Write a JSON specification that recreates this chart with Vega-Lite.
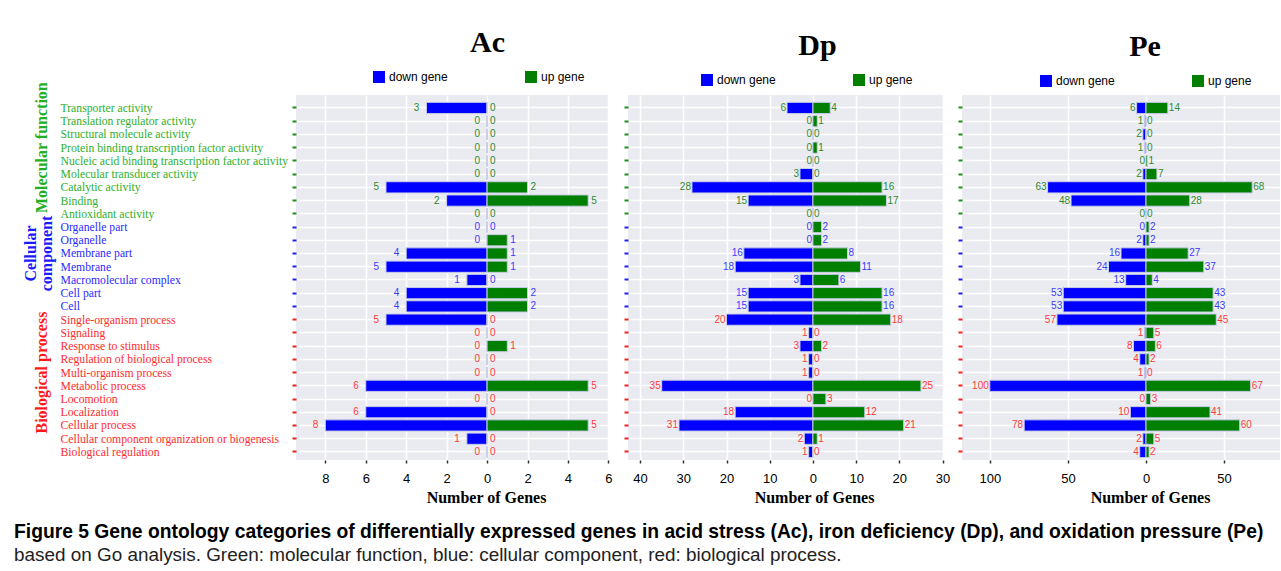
{
  "$schema": "https://vega.github.io/schema/vega-lite/v6.json",
  "padding": {"left": 14, "top": 28, "right": 0, "bottom": 4},
  "background": "white",
  "config": {"view": {"stroke": null}, "font": "Liberation Sans"},
  "datasets": {
    "go": [
      {"cat": "Transporter activity", "grp": "mf", "cond": "Ac", "down": 3, "up": 0},
      {"cat": "Translation regulator activity", "grp": "mf", "cond": "Ac", "down": 0, "up": 0},
      {"cat": "Structural molecule activity", "grp": "mf", "cond": "Ac", "down": 0, "up": 0},
      {"cat": "Protein binding transcription factor activity", "grp": "mf", "cond": "Ac", "down": 0, "up": 0},
      {"cat": "Nucleic acid binding transcription factor activity", "grp": "mf", "cond": "Ac", "down": 0, "up": 0},
      {"cat": "Molecular transducer activity", "grp": "mf", "cond": "Ac", "down": 0, "up": 0},
      {"cat": "Catalytic activity", "grp": "mf", "cond": "Ac", "down": 5, "up": 2},
      {"cat": "Binding", "grp": "mf", "cond": "Ac", "down": 2, "up": 5},
      {"cat": "Antioxidant activity", "grp": "mf", "cond": "Ac", "down": 0, "up": 0},
      {"cat": "Organelle part", "grp": "cc", "cond": "Ac", "down": 0, "up": 0},
      {"cat": "Organelle", "grp": "cc", "cond": "Ac", "down": 0, "up": 1},
      {"cat": "Membrane part", "grp": "cc", "cond": "Ac", "down": 4, "up": 1},
      {"cat": "Membrane", "grp": "cc", "cond": "Ac", "down": 5, "up": 1},
      {"cat": "Macromolecular complex", "grp": "cc", "cond": "Ac", "down": 1, "up": 0},
      {"cat": "Cell part", "grp": "cc", "cond": "Ac", "down": 4, "up": 2},
      {"cat": "Cell", "grp": "cc", "cond": "Ac", "down": 4, "up": 2},
      {"cat": "Single-organism process", "grp": "bp", "cond": "Ac", "down": 5, "up": 0},
      {"cat": "Signaling", "grp": "bp", "cond": "Ac", "down": 0, "up": 0},
      {"cat": "Response to stimulus", "grp": "bp", "cond": "Ac", "down": 0, "up": 1},
      {"cat": "Regulation of biological process", "grp": "bp", "cond": "Ac", "down": 0, "up": 0},
      {"cat": "Multi-organism process", "grp": "bp", "cond": "Ac", "down": 0, "up": 0},
      {"cat": "Metabolic process", "grp": "bp", "cond": "Ac", "down": 6, "up": 5},
      {"cat": "Locomotion", "grp": "bp", "cond": "Ac", "down": 0, "up": 0},
      {"cat": "Localization", "grp": "bp", "cond": "Ac", "down": 6, "up": 0},
      {"cat": "Cellular process", "grp": "bp", "cond": "Ac", "down": 8, "up": 5},
      {"cat": "Cellular component organization or biogenesis", "grp": "bp", "cond": "Ac", "down": 1, "up": 0},
      {"cat": "Biological regulation", "grp": "bp", "cond": "Ac", "down": 0, "up": 0},

      {"cat": "Transporter activity", "grp": "mf", "cond": "Dp", "down": 6, "up": 4},
      {"cat": "Translation regulator activity", "grp": "mf", "cond": "Dp", "down": 0, "up": 1},
      {"cat": "Structural molecule activity", "grp": "mf", "cond": "Dp", "down": 0, "up": 0},
      {"cat": "Protein binding transcription factor activity", "grp": "mf", "cond": "Dp", "down": 0, "up": 1},
      {"cat": "Nucleic acid binding transcription factor activity", "grp": "mf", "cond": "Dp", "down": 0, "up": 0},
      {"cat": "Molecular transducer activity", "grp": "mf", "cond": "Dp", "down": 3, "up": 0},
      {"cat": "Catalytic activity", "grp": "mf", "cond": "Dp", "down": 28, "up": 16},
      {"cat": "Binding", "grp": "mf", "cond": "Dp", "down": 15, "up": 17},
      {"cat": "Antioxidant activity", "grp": "mf", "cond": "Dp", "down": 0, "up": 0},
      {"cat": "Organelle part", "grp": "cc", "cond": "Dp", "down": 0, "up": 2},
      {"cat": "Organelle", "grp": "cc", "cond": "Dp", "down": 0, "up": 2},
      {"cat": "Membrane part", "grp": "cc", "cond": "Dp", "down": 16, "up": 8},
      {"cat": "Membrane", "grp": "cc", "cond": "Dp", "down": 18, "up": 11},
      {"cat": "Macromolecular complex", "grp": "cc", "cond": "Dp", "down": 3, "up": 6},
      {"cat": "Cell part", "grp": "cc", "cond": "Dp", "down": 15, "up": 16},
      {"cat": "Cell", "grp": "cc", "cond": "Dp", "down": 15, "up": 16},
      {"cat": "Single-organism process", "grp": "bp", "cond": "Dp", "down": 20, "up": 18},
      {"cat": "Signaling", "grp": "bp", "cond": "Dp", "down": 1, "up": 0},
      {"cat": "Response to stimulus", "grp": "bp", "cond": "Dp", "down": 3, "up": 2},
      {"cat": "Regulation of biological process", "grp": "bp", "cond": "Dp", "down": 1, "up": 0},
      {"cat": "Multi-organism process", "grp": "bp", "cond": "Dp", "down": 1, "up": 0},
      {"cat": "Metabolic process", "grp": "bp", "cond": "Dp", "down": 35, "up": 25},
      {"cat": "Locomotion", "grp": "bp", "cond": "Dp", "down": 0, "up": 3},
      {"cat": "Localization", "grp": "bp", "cond": "Dp", "down": 18, "up": 12},
      {"cat": "Cellular process", "grp": "bp", "cond": "Dp", "down": 31, "up": 21},
      {"cat": "Cellular component organization or biogenesis", "grp": "bp", "cond": "Dp", "down": 2, "up": 1},
      {"cat": "Biological regulation", "grp": "bp", "cond": "Dp", "down": 1, "up": 0},

      {"cat": "Transporter activity", "grp": "mf", "cond": "Pe", "down": 6, "up": 14},
      {"cat": "Translation regulator activity", "grp": "mf", "cond": "Pe", "down": 1, "up": 0},
      {"cat": "Structural molecule activity", "grp": "mf", "cond": "Pe", "down": 2, "up": 0},
      {"cat": "Protein binding transcription factor activity", "grp": "mf", "cond": "Pe", "down": 1, "up": 0},
      {"cat": "Nucleic acid binding transcription factor activity", "grp": "mf", "cond": "Pe", "down": 0, "up": 1},
      {"cat": "Molecular transducer activity", "grp": "mf", "cond": "Pe", "down": 2, "up": 7},
      {"cat": "Catalytic activity", "grp": "mf", "cond": "Pe", "down": 63, "up": 68},
      {"cat": "Binding", "grp": "mf", "cond": "Pe", "down": 48, "up": 28},
      {"cat": "Antioxidant activity", "grp": "mf", "cond": "Pe", "down": 0, "up": 0},
      {"cat": "Organelle part", "grp": "cc", "cond": "Pe", "down": 0, "up": 2},
      {"cat": "Organelle", "grp": "cc", "cond": "Pe", "down": 2, "up": 2},
      {"cat": "Membrane part", "grp": "cc", "cond": "Pe", "down": 16, "up": 27},
      {"cat": "Membrane", "grp": "cc", "cond": "Pe", "down": 24, "up": 37},
      {"cat": "Macromolecular complex", "grp": "cc", "cond": "Pe", "down": 13, "up": 4},
      {"cat": "Cell part", "grp": "cc", "cond": "Pe", "down": 53, "up": 43},
      {"cat": "Cell", "grp": "cc", "cond": "Pe", "down": 53, "up": 43},
      {"cat": "Single-organism process", "grp": "bp", "cond": "Pe", "down": 57, "up": 45},
      {"cat": "Signaling", "grp": "bp", "cond": "Pe", "down": 1, "up": 5},
      {"cat": "Response to stimulus", "grp": "bp", "cond": "Pe", "down": 8, "up": 6},
      {"cat": "Regulation of biological process", "grp": "bp", "cond": "Pe", "down": 4, "up": 2},
      {"cat": "Multi-organism process", "grp": "bp", "cond": "Pe", "down": 1, "up": 0},
      {"cat": "Metabolic process", "grp": "bp", "cond": "Pe", "down": 100, "up": 67},
      {"cat": "Locomotion", "grp": "bp", "cond": "Pe", "down": 0, "up": 3},
      {"cat": "Localization", "grp": "bp", "cond": "Pe", "down": 10, "up": 41},
      {"cat": "Cellular process", "grp": "bp", "cond": "Pe", "down": 78, "up": 60},
      {"cat": "Cellular component organization or biogenesis", "grp": "bp", "cond": "Pe", "down": 2, "up": 5},
      {"cat": "Biological regulation", "grp": "bp", "cond": "Pe", "down": 4, "up": 2}
    ]
  },
  "title": {
    "text": "Figure 5  Gene ontology categories of differentially expressed genes in acid stress (Ac), iron deficiency (Dp), and oxidation pressure (Pe)",
    "subtitle": "based on Go analysis. Green: molecular function, blue: cellular component, red: biological process.",
    "orient": "bottom", "anchor": "start", "dx": -8, "offset": 18,
    "font": "Liberation Sans", "fontSize": 19.3, "fontWeight": "bold", "color": "black",
    "subtitleFont": "Liberation Sans", "subtitleFontSize": 18.9, "subtitleColor": "#222222", "subtitlePadding": 4
  },
  "spacing": 19,
  "bounds": "flush",
  "resolve": {"scale": {"color": "independent", "fill": "independent"}, "legend": {"color": "independent"}},
  "hconcat": [
    {
      "width": 313, "height": 365,
      "view": {"fill": "#EAEAF1", "stroke": null},
      "title": {"text": "Ac", "dx": 35, "font": "Liberation Serif", "fontSize": 30, "fontWeight": "bold", "color": "black", "offset": 13},
      "data": {"name": "go"},
      "transform": [{"filter": "datum.cond === 'Ac'"}, {"calculate": "-datum.down", "as": "neg"}],
      "resolve": {"axis": {"y": "independent"}},
      "layer": [
        {"mark": {"type": "bar", "stroke": "#C8CEE6", "strokeWidth": 1},
         "encoding": {
           "y": {"field": "cat", "type": "nominal",
             "scale": {"domain": ["Transporter activity","Translation regulator activity","Structural molecule activity","Protein binding transcription factor activity","Nucleic acid binding transcription factor activity","Molecular transducer activity","Catalytic activity","Binding","Antioxidant activity","Organelle part","Organelle","Membrane part","Membrane","Macromolecular complex","Cell part","Cell","Single-organism process","Signaling","Response to stimulus","Regulation of biological process","Multi-organism process","Metabolic process","Locomotion","Localization","Cellular process","Cellular component organization or biogenesis","Biological regulation"], "paddingInner": 0.15, "paddingOuter": 0.37, "align": 0.75},
             "axis": {"title": null, "domain": false, "grid": true, "gridColor": "white", "gridWidth": 1.5, "bandPosition": 0.5,
               "tickSize": 4, "tickWidth": 2,
               "tickColor": {"condition": [
                 {"test": "indexof(['Transporter activity','Translation regulator activity','Structural molecule activity','Protein binding transcription factor activity','Nucleic acid binding transcription factor activity','Molecular transducer activity','Catalytic activity','Binding','Antioxidant activity'], datum.value) >= 0", "value": "#1E8C1E"},
                 {"test": "indexof(['Organelle part','Organelle','Membrane part','Membrane','Macromolecular complex','Cell part','Cell'], datum.value) >= 0", "value": "#2020F0"}], "value": "#F02020"},
               "labelAlign": "left", "labelPadding": 232, "labelLimit": 400, "labelBaseline": "middle",
               "labelFont": "Liberation Serif", "labelFontSize": 11.7,
               "labelColor": {"condition": [
                 {"test": "indexof(['Transporter activity','Translation regulator activity','Structural molecule activity','Protein binding transcription factor activity','Nucleic acid binding transcription factor activity','Molecular transducer activity','Catalytic activity','Binding','Antioxidant activity'], datum.value) >= 0", "value": "#2DB02D"},
                 {"test": "indexof(['Organelle part','Organelle','Membrane part','Membrane','Macromolecular complex','Cell part','Cell'], datum.value) >= 0", "value": "#2B2BFF"}], "value": "#FF2B2B"}
             }},
           "x": {"field": "neg", "type": "quantitative", "scale": {"domain": [-9.45, 6.03], "nice": false, "zero": false},
             "axis": {"values": [-8, -6, -4, -2, 0, 2, 4, 6], "labelExpr": "abs(datum.value)", "labelFlush": false, "title": "Number of Genes", "grid": true, "gridColor": "white", "gridWidth": 1.5, "domain": false,
               "tickColor": "#333333", "tickSize": 3, "tickWidth": 1.5, "labelFont": "Liberation Sans", "labelFontSize": 13, "labelColor": "black", "labelPadding": 9,
               "titleFont": "Liberation Serif", "titleFontSize": 16, "titleFontWeight": "bold", "titleColor": "black", "titleX": 190, "titlePadding": 4}},
           "x2": {"datum": 0},
           "color": {"datum": "down gene", "type": "nominal", "scale": {"domain": ["down gene", "up gene"], "range": ["#0000FF", "#007F00"]},
             "legend": {"title": null, "orient": "none", "legendX": 77, "legendY": -24, "direction": "horizontal", "symbolType": "square", "symbolSize": 144, "symbolStrokeWidth": 0, "labelFont": "Liberation Sans", "labelFontSize": 12, "labelColor": "black", "labelOffset": 4, "columnPadding": 77}}
         }},
        {"mark": {"type": "bar", "stroke": "#C8CEE6", "strokeWidth": 1},
         "encoding": {
           "y": {"field": "cat", "type": "nominal",
             "axis": {"orient": "left", "title": null, "domain": false, "ticks": false, "tickSize": 0, "grid": false, "bandPosition": 1,
               "values": ["Protein binding transcription factor activity", "Multi-organism process"],
               "labelExpr": "datum.value == 'Multi-organism process' ? 'Biological process' : 'Molecular function'",
               "labelAngle": 270, "labelAlign": "center", "labelBaseline": "middle", "labelPadding": 255, "labelLimit": 300, "labelOverlap": false,
               "labelFont": "Liberation Serif", "labelFontSize": 16, "labelFontWeight": "bold",
               "labelColor": {"condition": {"test": "datum.value == 'Multi-organism process'", "value": "#FF1A1A"}, "value": "#22B022"}
             }},
           "x": {"field": "up", "type": "quantitative"}, "x2": {"datum": 0}, "color": {"datum": "up gene", "type": "nominal"}}},
        {"mark": {"type": "text", "align": "right", "baseline": "middle", "dx": -7, "fontSize": 10, "font": "Liberation Sans"},
         "encoding": {
           "y": {"field": "cat", "type": "nominal",
             "axis": {"orient": "left", "title": null, "domain": false, "ticks": false, "tickSize": 0, "grid": false, "bandPosition": 1,
               "values": ["Membrane part"], "labelExpr": "'Cellular'",
               "labelAngle": 270, "labelAlign": "center", "labelBaseline": "middle", "labelPadding": 266, "labelLimit": 300, "labelOverlap": false,
               "labelFont": "Liberation Serif", "labelFontSize": 16, "labelFontWeight": "bold", "labelColor": "#1A1AFF"
             }},
           "x": {"field": "neg", "type": "quantitative"}, "text": {"field": "down"},
           "fill": {"field": "grp", "type": "nominal", "legend": null, "scale": {"domain": ["mf", "cc", "bp"], "range": ["#2E8B2E", "#3B3BFF", "#FF3B3B"]}}}},
        {"mark": {"type": "text", "align": "left", "baseline": "middle", "dx": 3, "fontSize": 10, "font": "Liberation Sans"},
         "encoding": {
           "y": {"field": "cat", "type": "nominal",
             "axis": {"orient": "left", "title": null, "domain": false, "ticks": false, "tickSize": 0, "grid": false, "bandPosition": 1,
               "values": ["Membrane part"], "labelExpr": "'component'",
               "labelAngle": 270, "labelAlign": "center", "labelBaseline": "middle", "labelPadding": 250, "labelLimit": 300, "labelOverlap": false,
               "labelFont": "Liberation Serif", "labelFontSize": 16, "labelFontWeight": "bold", "labelColor": "#1A1AFF"
             }},
           "x": {"field": "up", "type": "quantitative"}, "text": {"field": "up"}, "fill": {"field": "grp", "type": "nominal"}}}
      ]
    },
    {
      "width": 315, "height": 365,
      "view": {"fill": "#EAEAF1", "stroke": null},
      "title": {"text": "Dp", "dx": 32, "font": "Liberation Serif", "fontSize": 30, "fontWeight": "bold", "color": "black", "offset": 13},
      "data": {"name": "go"},
      "transform": [{"filter": "datum.cond === 'Dp'"}, {"calculate": "-datum.down", "as": "neg"}],
      "encoding": {
        "y": {"field": "cat", "type": "nominal",
          "scale": {"domain": ["Transporter activity","Translation regulator activity","Structural molecule activity","Protein binding transcription factor activity","Nucleic acid binding transcription factor activity","Molecular transducer activity","Catalytic activity","Binding","Antioxidant activity","Organelle part","Organelle","Membrane part","Membrane","Macromolecular complex","Cell part","Cell","Single-organism process","Signaling","Response to stimulus","Regulation of biological process","Multi-organism process","Metabolic process","Locomotion","Localization","Cellular process","Cellular component organization or biogenesis","Biological regulation"], "paddingInner": 0.15, "paddingOuter": 0.37, "align": 0.75},
          "axis": {"title": null, "domain": false, "grid": true, "gridColor": "white", "gridWidth": 1.5, "bandPosition": 0.5, "labels": false,
            "tickSize": 4, "tickWidth": 2,
            "tickColor": {"condition": [
              {"test": "indexof(['Transporter activity','Translation regulator activity','Structural molecule activity','Protein binding transcription factor activity','Nucleic acid binding transcription factor activity','Molecular transducer activity','Catalytic activity','Binding','Antioxidant activity'], datum.value) >= 0", "value": "#1E8C1E"},
              {"test": "indexof(['Organelle part','Organelle','Membrane part','Membrane','Macromolecular complex','Cell part','Cell'], datum.value) >= 0", "value": "#2020F0"}], "value": "#F02020"}
          }}
      },
      "layer": [
        {"mark": {"type": "bar", "stroke": "#C8CEE6", "strokeWidth": 1},
         "encoding": {
           "x": {"field": "neg", "type": "quantitative", "scale": {"domain": [-42.8, 30.1], "nice": false, "zero": false},
             "axis": {"values": [-40, -30, -20, -10, 0, 10, 20, 30], "labelExpr": "abs(datum.value)", "labelFlush": false, "title": "Number of Genes", "grid": true, "gridColor": "white", "gridWidth": 1.5, "domain": false,
               "tickColor": "#333333", "tickSize": 3, "tickWidth": 1.5, "labelFont": "Liberation Sans", "labelFontSize": 13, "labelColor": "black", "labelPadding": 9,
               "titleFont": "Liberation Serif", "titleFontSize": 16, "titleFontWeight": "bold", "titleColor": "black", "titleX": 186, "titlePadding": 4}},
           "x2": {"datum": 0},
           "color": {"datum": "down gene", "type": "nominal", "scale": {"domain": ["down gene", "up gene"], "range": ["#0000FF", "#007F00"]},
             "legend": {"title": null, "orient": "none", "legendX": 73, "legendY": -21, "direction": "horizontal", "symbolType": "square", "symbolSize": 144, "symbolStrokeWidth": 0, "labelFont": "Liberation Sans", "labelFontSize": 12, "labelColor": "black", "labelOffset": 4, "columnPadding": 77}}
         }},
        {"mark": {"type": "bar", "stroke": "#C8CEE6", "strokeWidth": 1},
         "encoding": {"x": {"field": "up", "type": "quantitative"}, "x2": {"datum": 0}, "color": {"datum": "up gene", "type": "nominal"}}},
        {"mark": {"type": "text", "align": "right", "baseline": "middle", "dx": -1, "fontSize": 10, "font": "Liberation Sans"},
         "encoding": {"x": {"field": "neg", "type": "quantitative"}, "text": {"field": "down"},
           "fill": {"field": "grp", "type": "nominal", "legend": null, "scale": {"domain": ["mf", "cc", "bp"], "range": ["#2E8B2E", "#3B3BFF", "#FF3B3B"]}}}},
        {"mark": {"type": "text", "align": "left", "baseline": "middle", "dx": 1, "fontSize": 10, "font": "Liberation Sans"},
         "encoding": {"x": {"field": "up", "type": "quantitative"}, "text": {"field": "up"}, "fill": {"field": "grp", "type": "nominal"}}}
      ]
    },
    {
      "width": 318, "height": 365,
      "view": {"fill": "#EAEAF1", "stroke": null},
      "title": {"text": "Pe", "dx": 24, "font": "Liberation Serif", "fontSize": 30, "fontWeight": "bold", "color": "black", "offset": 13},
      "data": {"name": "go"},
      "transform": [{"filter": "datum.cond === 'Pe'"}, {"calculate": "-datum.down", "as": "neg"}],
      "encoding": {
        "y": {"field": "cat", "type": "nominal",
          "scale": {"domain": ["Transporter activity","Translation regulator activity","Structural molecule activity","Protein binding transcription factor activity","Nucleic acid binding transcription factor activity","Molecular transducer activity","Catalytic activity","Binding","Antioxidant activity","Organelle part","Organelle","Membrane part","Membrane","Macromolecular complex","Cell part","Cell","Single-organism process","Signaling","Response to stimulus","Regulation of biological process","Multi-organism process","Metabolic process","Locomotion","Localization","Cellular process","Cellular component organization or biogenesis","Biological regulation"], "paddingInner": 0.15, "paddingOuter": 0.37, "align": 0.75},
          "axis": {"title": null, "domain": false, "grid": true, "gridColor": "white", "gridWidth": 1.5, "bandPosition": 0.5, "labels": false,
            "tickSize": 4, "tickWidth": 2,
            "tickColor": {"condition": [
              {"test": "indexof(['Transporter activity','Translation regulator activity','Structural molecule activity','Protein binding transcription factor activity','Nucleic acid binding transcription factor activity','Molecular transducer activity','Catalytic activity','Binding','Antioxidant activity'], datum.value) >= 0", "value": "#1E8C1E"},
              {"test": "indexof(['Organelle part','Organelle','Membrane part','Membrane','Macromolecular complex','Cell part','Cell'], datum.value) >= 0", "value": "#2020F0"}], "value": "#F02020"}
          }}
      },
      "layer": [
        {"mark": {"type": "bar", "stroke": "#C8CEE6", "strokeWidth": 1},
         "encoding": {
           "x": {"field": "neg", "type": "quantitative", "scale": {"domain": [-117.8, 85.8], "nice": false, "zero": false},
             "axis": {"values": [-100, -50, 0, 50], "labelExpr": "abs(datum.value)", "labelFlush": false, "title": "Number of Genes", "grid": true, "gridColor": "white", "gridWidth": 1.5, "domain": false,
               "tickColor": "#333333", "tickSize": 3, "tickWidth": 1.5, "labelFont": "Liberation Sans", "labelFontSize": 13, "labelColor": "black", "labelPadding": 9,
               "titleFont": "Liberation Serif", "titleFontSize": 16, "titleFontWeight": "bold", "titleColor": "black", "titleX": 188, "titlePadding": 4}},
           "x2": {"datum": 0},
           "color": {"datum": "down gene", "type": "nominal", "scale": {"domain": ["down gene", "up gene"], "range": ["#0000FF", "#007F00"]},
             "legend": {"title": null, "orient": "none", "legendX": 78, "legendY": -20, "direction": "horizontal", "symbolType": "square", "symbolSize": 144, "symbolStrokeWidth": 0, "labelFont": "Liberation Sans", "labelFontSize": 12, "labelColor": "black", "labelOffset": 4, "columnPadding": 77}}
         }},
        {"mark": {"type": "bar", "stroke": "#C8CEE6", "strokeWidth": 1},
         "encoding": {"x": {"field": "up", "type": "quantitative"}, "x2": {"datum": 0}, "color": {"datum": "up gene", "type": "nominal"}}},
        {"mark": {"type": "text", "align": "right", "baseline": "middle", "dx": -1, "fontSize": 10, "font": "Liberation Sans"},
         "encoding": {"x": {"field": "neg", "type": "quantitative"}, "text": {"field": "down"},
           "fill": {"field": "grp", "type": "nominal", "legend": null, "scale": {"domain": ["mf", "cc", "bp"], "range": ["#2E8B2E", "#3B3BFF", "#FF3B3B"]}}}},
        {"mark": {"type": "text", "align": "left", "baseline": "middle", "dx": 1, "fontSize": 10, "font": "Liberation Sans"},
         "encoding": {"x": {"field": "up", "type": "quantitative"}, "text": {"field": "up"}, "fill": {"field": "grp", "type": "nominal"}}}
      ]
    }
  ]
}
